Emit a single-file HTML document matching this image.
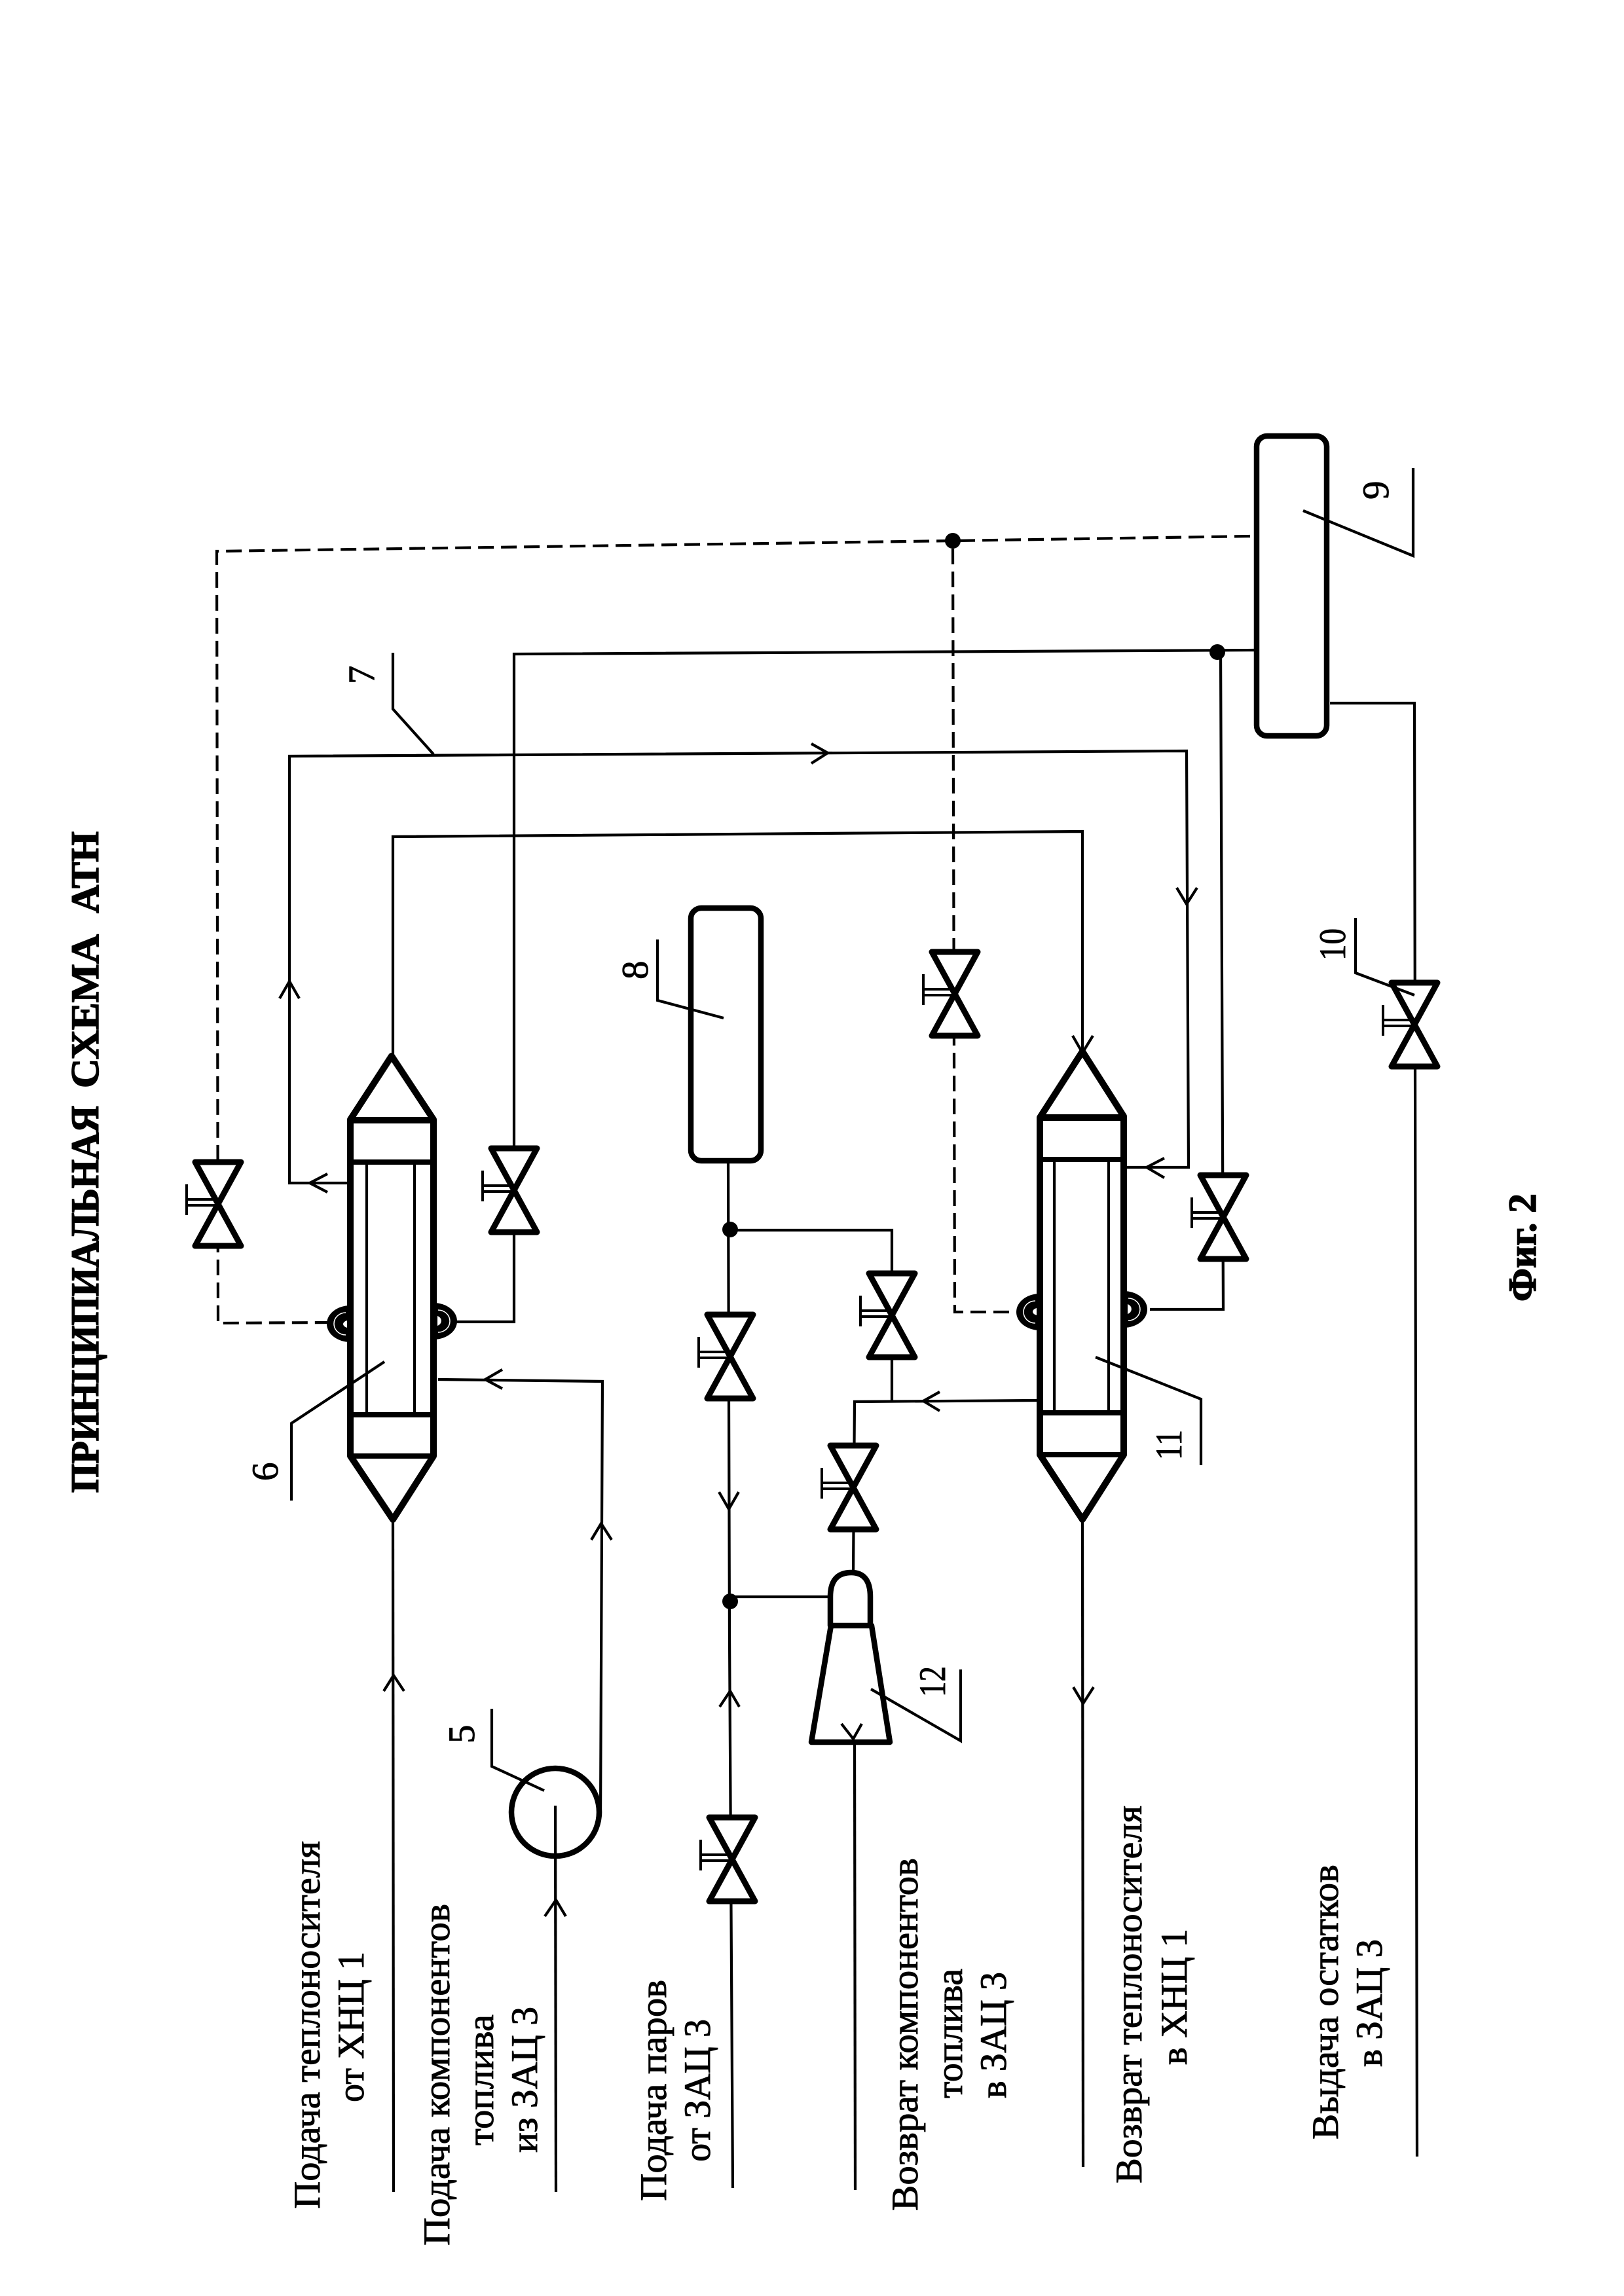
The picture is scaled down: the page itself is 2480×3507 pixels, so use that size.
<!DOCTYPE html>
<html><head><meta charset="utf-8"><style>
html,body{margin:0;padding:0;background:#fff}
svg{display:block}
text{font-family:"Liberation Serif","Noto Serif CJK SC",serif;font-size:57px;fill:#000;stroke:#000;stroke-width:.9}
.b{font-weight:bold;font-size:60px;stroke-width:1.5}
.l{fill:none;stroke:#000;stroke-width:4.2}
.d{fill:none;stroke:#000;stroke-width:4.2;stroke-dasharray:24 11}
.h{fill:none;stroke:#000;stroke-width:10;stroke-linejoin:round}
.t{fill:none;stroke:#000;stroke-width:8}
.k{fill:none;stroke:#000;stroke-width:8.5;stroke-linejoin:round}
</style></head><body>
<svg width="2480" height="3507" viewBox="0 0 2480 3507" xmlns="http://www.w3.org/2000/svg">
<defs>
<g id="v"><path d="M-35,-64H35L-35,64H35Z" fill="#fff" stroke="#000" stroke-width="9" stroke-linejoin="round"/>
<path d="M-48,-30V17M-48,-7H-6M-48,2H-2" fill="none" stroke="#000" stroke-width="4"/></g>
</defs>
<rect width="2480" height="3507" fill="#fff"/>

<!-- dashed -->
<polyline class="d" points="1909,819 1455,826 331,842 333,2021 501,2020"/>
<polyline class="d" points="1455,838 1458,2004 1549,2004"/>

<!-- pipes -->
<polyline class="l" points="531,1807 442,1807 442,1155 1812,1147 1815,1783 1718,1783"/>
<polyline class="l" points="697,2019 785,2019 785,999 1915,993"/>
<polyline class="l" points="600,1610 600,1278 1653,1270 1653,1606"/>
<polyline class="l" points="669,2107 920,2110 917,2774"/>
<polyline class="l" points="600,2321 601,3348"/>
<polyline class="l" points="848,2758 849,3348"/>
<polyline class="l" points="1112,1777 1113,2140 1114,2500 1119,3342"/>
<polyline class="l" points="1115,1879 1362,1879 1362,2140"/>
<polyline class="l" points="1584,2139 1305,2141 1303,2402"/>
<polyline class="l" points="1115,2439 1268,2439"/>
<polyline class="l" points="1305,2661 1306,3345"/>
<polyline class="l" points="1653,2321 1654,3310"/>
<polyline class="l" points="1756,2000 1868,2000 1864,995"/>
<polyline class="l" points="2031,1074 2160,1074 2164,3294"/>

<!-- arrows -->
<g>
<polyline class="l" points="427,1525 442,1499 457,1525"/>
<polyline class="l" points="1239,1136 1264,1150 1239,1166"/>
<polyline class="l" points="500,1793 473,1807 500,1821"/>
<polyline class="l" points="767,2092 741,2107 767,2121"/>
<polyline class="l" points="903,2352 918,2327 934,2352"/>
<polyline class="l" points="586,2583 601,2559 617,2583"/>
<polyline class="l" points="832,2927 849,2902 864,2927"/>
<polyline class="l" points="1098,2279 1113,2305 1128,2279"/>
<polyline class="l" points="1099,2607 1115,2583 1129,2607"/>
<polyline class="l" points="1435,2126 1410,2140 1435,2155"/>
<polyline class="l" points="1285,2633 1303,2656 1316,2633"/>
<polyline class="l" points="1778,1769 1751,1783 1778,1799"/>
<polyline class="l" points="1797,1356 1812,1381 1828,1356"/>
<polyline class="l" points="1638,1582 1653,1608 1669,1582"/>
<polyline class="l" points="1639,2577 1654,2602 1670,2577"/>
</g>

<!-- coils -->
<path d="M535,1994A36,28 0 0 0 535,2050Z" fill="#000"/>
<path d="M528,2005A18,17 0 0 0 528,2039" fill="none" stroke="#fff" stroke-width="1.5"/>
<path d="M530,2017A10,6 0 0 0 530,2028Z" fill="#fff"/>
<path d="M662,1990A36,28 0 0 1 662,2046Z" fill="#000"/>
<path d="M669,2001A18,17 0 0 1 669,2035" fill="none" stroke="#fff" stroke-width="1.5"/>
<path d="M668,2010A9,8 0 0 1 668,2025Z" fill="#fff"/>
<path d="M1588,1976A36,28 0 0 0 1588,2032Z" fill="#000"/>
<path d="M1581,1987A18,17 0 0 0 1581,2021" fill="none" stroke="#fff" stroke-width="1.5"/>
<path d="M1583,1998A10,6 0 0 0 1583,2009Z" fill="#fff"/>
<path d="M1716,1972A36,28 0 0 1 1716,2028Z" fill="#000"/>
<path d="M1723,1983A18,17 0 0 1 1723,2017" fill="none" stroke="#fff" stroke-width="1.5"/>
<path d="M1722,1992A9,8 0 0 1 1722,2007Z" fill="#fff"/>

<!-- exchanger 6 -->
<path class="h" d="M535,1710L598,1613L662,1710L662,2224L600,2321L535,2224Z"/>
<path d="M535,1711H662" class="h"/>
<path d="M535,1775H662" class="t"/>
<path d="M535,2161H662" class="t"/>
<path d="M535,2224H662" class="t"/>
<path d="M560,1775V2161M633,1775V2161" class="l"/>

<!-- exchanger 11 -->
<path class="h" d="M1588,1707L1653,1606L1716,1705L1716,2222L1653,2321L1588,2222Z"/>
<path d="M1588,1707H1716" class="h"/>
<path d="M1588,1771H1716" class="t"/>
<path d="M1588,2158H1716" class="t"/>
<path d="M1588,2222H1716" class="t"/>
<path d="M1610,1771V2158M1693,1771V2158" class="l"/>

<!-- tanks -->
<rect class="k" x="1055" y="1387" width="107" height="386" rx="16"/>
<rect class="k" x="1919" y="666" width="107" height="458" rx="16"/>

<!-- pump -->
<circle class="k" cx="848" cy="2768" r="67"/>

<!-- ejector -->
<path class="k" d="M1268,2483V2439Q1268,2402 1300,2402Q1329,2402 1329,2439V2483ZM1269,2483H1331L1359,2661H1239Z"/>

<!-- valves -->
<use href="#v" x="333" y="1839"/>
<use href="#v" x="785" y="1818"/>
<use href="#v" x="1115" y="2072"/>
<use href="#v" x="1303" y="2272"/>
<use href="#v" x="1362" y="2009"/>
<use href="#v" x="1458" y="1518"/>
<use href="#v" x="1868" y="1859"/>
<use href="#v" x="2160" y="1565"/>
<use href="#v" x="1118" y="2840"/>

<!-- dots -->
<circle cx="1455" cy="826" r="12"/>
<circle cx="1859" cy="996" r="12"/>
<circle cx="1115" cy="1878" r="12"/>
<circle cx="1115" cy="2446" r="12"/>

<!-- leaders -->
<polyline class="l" points="600,997 600,1083 662,1152"/>
<polyline class="l" points="1004,1435 1004,1528 1105,1555"/>
<polyline class="l" points="2158,715 2158,849 1990,780"/>
<polyline class="l" points="2070,1402 2070,1486 2160,1520"/>
<polyline class="l" points="587,2080 445,2174 445,2292"/>
<polyline class="l" points="1673,2073 1834,2137 1834,2238"/>
<polyline class="l" points="1330,2580 1467,2659 1467,2550"/>
<polyline class="l" points="751,2610 751,2698 831,2735"/>

<!-- numbers -->
<text transform="translate(571,1045) rotate(-90)">7</text>
<text transform="translate(989,1496) rotate(-90)">8</text>
<text transform="translate(2120,763) rotate(-90)">9</text>
<text transform="translate(2054,1467) rotate(-90)" textLength="49" lengthAdjust="spacingAndGlyphs">10</text>
<text transform="translate(424,2262) rotate(-90)">6</text>
<text transform="translate(1804,2230) rotate(-90)" textLength="46" lengthAdjust="spacingAndGlyphs">11</text>
<text transform="translate(1443,2592) rotate(-90)" textLength="47" lengthAdjust="spacingAndGlyphs">12</text>
<text transform="translate(724,2663) rotate(-90)">5</text>

<!-- labels -->
<text transform="translate(488,3374) rotate(-90)" textLength="562" lengthAdjust="spacingAndGlyphs">Подача теплоносителя</text>
<text transform="translate(555,3211) rotate(-90)" textLength="230" lengthAdjust="spacingAndGlyphs">от ХНЦ 1</text>
<text transform="translate(686,3430) rotate(-90)" textLength="522" lengthAdjust="spacingAndGlyphs">Подача компонентов</text>
<text transform="translate(753,3277) rotate(-90)" textLength="200" lengthAdjust="spacingAndGlyphs">топлива</text>
<text transform="translate(820,3288) rotate(-90)" textLength="223" lengthAdjust="spacingAndGlyphs">из ЗАЦ 3</text>
<text transform="translate(1017,3362) rotate(-90)" textLength="338" lengthAdjust="spacingAndGlyphs">Подача паров</text>
<text transform="translate(1084,3302) rotate(-90)" textLength="218" lengthAdjust="spacingAndGlyphs">от ЗАЦ 3</text>
<text transform="translate(1401,3377) rotate(-90)" textLength="539" lengthAdjust="spacingAndGlyphs">Возврат компонентов</text>
<text transform="translate(1469,3205) rotate(-90)" textLength="198" lengthAdjust="spacingAndGlyphs">топлива</text>
<text transform="translate(1536,3205) rotate(-90)" textLength="193" lengthAdjust="spacingAndGlyphs">в ЗАЦ 3</text>
<text transform="translate(1743,3335) rotate(-90)" textLength="577" lengthAdjust="spacingAndGlyphs">Возврат теплоносителя</text>
<text transform="translate(1812,3154) rotate(-90)" textLength="208" lengthAdjust="spacingAndGlyphs">в ХНЦ 1</text>
<text transform="translate(2043,3268) rotate(-90)" textLength="420" lengthAdjust="spacingAndGlyphs">Выдача остатков</text>
<text transform="translate(2110,3157) rotate(-90)" textLength="195" lengthAdjust="spacingAndGlyphs">в ЗАЦ 3</text>

<text class="b" transform="translate(150,2280) rotate(-90)" textLength="591" lengthAdjust="spacingAndGlyphs">ПРИНЦИПИАЛЬНАЯ</text>
<text class="b" transform="translate(150,1662) rotate(-90)" textLength="235" lengthAdjust="spacingAndGlyphs">СХЕМА</text>
<text class="b" transform="translate(150,1395) rotate(-90)" textLength="125" lengthAdjust="spacingAndGlyphs">АТН</text>
<text class="b" transform="translate(2345,1988) rotate(-90)" textLength="165" lengthAdjust="spacingAndGlyphs">Фиг. 2</text>
</svg>
</body></html>
